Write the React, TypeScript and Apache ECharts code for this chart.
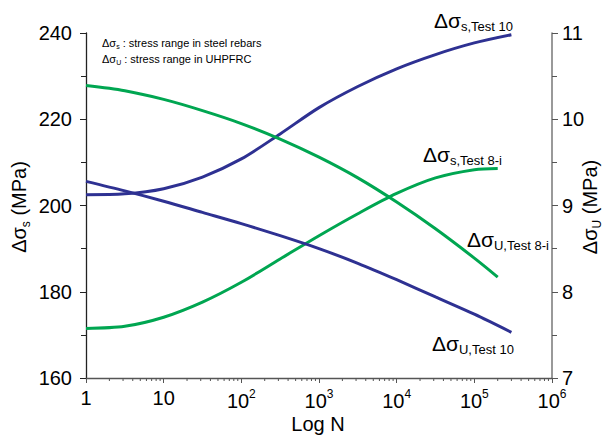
import React, { useEffect, useRef } from "react";
import * as echarts from "echarts";

// ---- data ----
const nTest10 = [1, 3.16, 10, 31.6, 100, 316, 1000, 3162, 10000, 31623, 100000, 300000];
const sTest10 = [202.5, 202.7, 203.9, 206.6, 210.8, 216.6, 222.7, 227.6, 231.7, 235.0, 237.7, 239.6];
const uTest10 = [9.28, 9.17, 9.05, 8.92, 8.79, 8.65, 8.5, 8.33, 8.14, 7.94, 7.74, 7.53];
const nTest8 = [1, 3.16, 10, 31.6, 100, 316, 1000, 3162, 10000, 31623, 100000, 200000];
const sTest8 = [171.5, 172.0, 174.1, 177.6, 182.2, 187.6, 193.0, 198.1, 202.8, 206.4, 208.3, 208.6];
const uTest8 = [10.39, 10.33, 10.23, 10.1, 9.95, 9.77, 9.56, 9.32, 9.04, 8.73, 8.39, 8.17];
const minorTickValues = [
  2, 3, 4, 5, 6, 7, 8, 9,
  20, 30, 40, 50, 60, 70, 80, 90,
  200, 300, 400, 500, 600, 700, 800, 900,
  2000, 3000, 4000, 5000, 6000, 7000, 8000, 9000,
  20000, 30000, 40000, 50000, 60000, 70000, 80000, 90000,
  200000, 300000, 400000, 500000, 600000, 700000, 800000, 900000,
];

const BLUE = "#2E3192";
const GREEN = "#00A651";
const FONT = "Liberation Sans, Arial, sans-serif";

const zip = (xs: number[], ys: number[]) => xs.map((x, i) => [x, ys[i]]);

export default function App() {
  const ref = useRef<HTMLDivElement>(null);
  useEffect(() => {
    if (!ref.current) return;
    const chart = echarts.init(ref.current, undefined, { renderer: "svg" });
    const bigRich = {
      d: { fontSize: 21, fontFamily: FONT, color: "#000", lineHeight: 26, verticalAlign: "middle" },
      s: { fontSize: 13, fontFamily: FONT, color: "#000", lineHeight: 26, verticalAlign: "bottom" },
    };
    const curveLabel = (x: number, y: number, sub: string) => ({
      type: "text",
      x,
      y,
      style: {
        text: `{d|Δσ}{s|${sub}}`,
        rich: bigRich,
        align: "left",
        verticalAlign: "middle",
      },
    });
    const axisTitleRich = {
      d: { fontSize: 20, fontFamily: FONT, color: "#000", lineHeight: 26, verticalAlign: "middle" },
      s: { fontSize: 12, fontFamily: FONT, color: "#000", lineHeight: 26, verticalAlign: "bottom" },
    };
    const noteRich = {
      d: { fontSize: 11, fontFamily: FONT, color: "#000", lineHeight: 14, verticalAlign: "middle" },
      s: { fontSize: 7, fontFamily: FONT, color: "#000", lineHeight: 14, verticalAlign: "bottom" },
    };
    const lineSeries = (name: string, yAxisIndex: number, data: number[][], color: string) => ({
      type: "line",
      name,
      yAxisIndex,
      data,
      smooth: 0.3,
      showSymbol: false,
      lineStyle: { color, width: 3 },
    });
    chart.setOption({
      animation: false,
      grid: { left: 86, right: 55, top: 33, bottom: 59 },
      xAxis: {
        type: "log",
        logBase: 10,
        min: 1,
        max: 1000000,
        splitNumber: 6,
        axisLine: { lineStyle: { color: "#555", width: 1.3 } },
        axisTick: { show: true, inside: false, length: 5, lineStyle: { color: "#555" } },
        splitLine: { show: false },
        axisLabel: {
          margin: 10,
          fontFamily: FONT,
          fontSize: 20,
          color: "#000",
          formatter: (v: number) => {
            const e = Math.round(Math.log10(v));
            if (e === 0) return "1";
            if (e === 1) return "10";
            return `10{sup|${e}}`;
          },
          rich: {
            sup: { fontSize: 12, fontFamily: FONT, color: "#000", verticalAlign: "top", lineHeight: 26 },
          },
        },
      },
      yAxis: [
        {
          type: "value",
          position: "left",
          min: 160,
          max: 240,
          interval: 20,
          axisLine: { show: true, lineStyle: { color: "#222", width: 1.3 } },
          axisTick: { show: true, inside: false, length: 6, lineStyle: { color: "#222" } },
          minorTick: { show: true, splitNumber: 2, length: 5, lineStyle: { color: "#222" } },
          splitLine: { show: false },
          minorSplitLine: { show: false },
          axisLabel: { margin: 14, fontFamily: FONT, fontSize: 20, color: "#000" },
        },
        {
          type: "value",
          position: "right",
          min: 7,
          max: 11,
          interval: 1,
          axisLine: { show: true, lineStyle: { color: "#777", width: 1.5 } },
          axisTick: { show: true, inside: false, length: 6, lineStyle: { color: "#555" } },
          minorTick: { show: true, splitNumber: 2, length: 5, lineStyle: { color: "#555" } },
          splitLine: { show: false },
          minorSplitLine: { show: false },
          axisLabel: { margin: 10, fontFamily: FONT, fontSize: 20, color: "#000" },
        },
      ],
      series: [
        lineSeries("Δσs Test 10", 0, zip(nTest10, sTest10), BLUE),
        lineSeries("Δσs Test 8-i", 0, zip(nTest8, sTest8), GREEN),
        lineSeries("ΔσU Test 10", 1, zip(nTest10, uTest10), BLUE),
        lineSeries("ΔσU Test 8-i", 1, zip(nTest8, uTest8), GREEN),
        {
          type: "custom",
          name: "minor x ticks",
          yAxisIndex: 0,
          clip: false,
          silent: true,
          data: minorTickValues.map((v) => [v, 160]),
          renderItem: (params: any, api: any) => {
            const p = api.coord([api.value(0), api.value(1)]);
            return {
              type: "line",
              shape: { x1: p[0], y1: p[1], x2: p[0], y2: p[1] + 3 },
              style: { stroke: "#555", lineWidth: 1 },
            };
          },
        },
      ],
      graphic: [
        {
          type: "text",
          x: 102,
          y: 43,
          style: {
            text: "{d|Δσ}{s|s}{d| : stress range in steel rebars}",
            rich: noteRich,
            align: "left",
            verticalAlign: "middle",
          },
        },
        {
          type: "text",
          x: 102,
          y: 59,
          style: {
            text: "{d|Δσ}{s|U}{d| : stress range in UHPFRC}",
            rich: noteRich,
            align: "left",
            verticalAlign: "middle",
          },
        },
        curveLabel(434, 20, "s,Test 10"),
        curveLabel(423, 154, "s,Test 8-i"),
        curveLabel(467, 239, "U,Test 8-i"),
        curveLabel(432, 343, "U,Test 10"),
        {
          type: "text",
          x: 19,
          y: 207,
          rotation: Math.PI / 2,
          style: {
            text: "{d|Δσ}{s|s}{d| (MPa)}",
            rich: axisTitleRich,
            align: "center",
            verticalAlign: "middle",
          },
        },
        {
          type: "text",
          x: 590,
          y: 207,
          rotation: Math.PI / 2,
          style: {
            text: "{d|Δσ}{s|U}{d| (MPa)}",
            rich: axisTitleRich,
            align: "center",
            verticalAlign: "middle",
          },
        },
        {
          type: "text",
          x: 318,
          y: 424,
          style: {
            text: "Log N",
            fontFamily: FONT,
            fontSize: 20,
            fill: "#000",
            align: "center",
            verticalAlign: "middle",
          },
        },
      ],
    });
    return () => chart.dispose();
  }, []);
  return (
    <div
      ref={ref}
      style={{ position: "fixed", left: 0, top: 0, width: 607, height: 437, background: "#fff" }}
    />
  );
}
